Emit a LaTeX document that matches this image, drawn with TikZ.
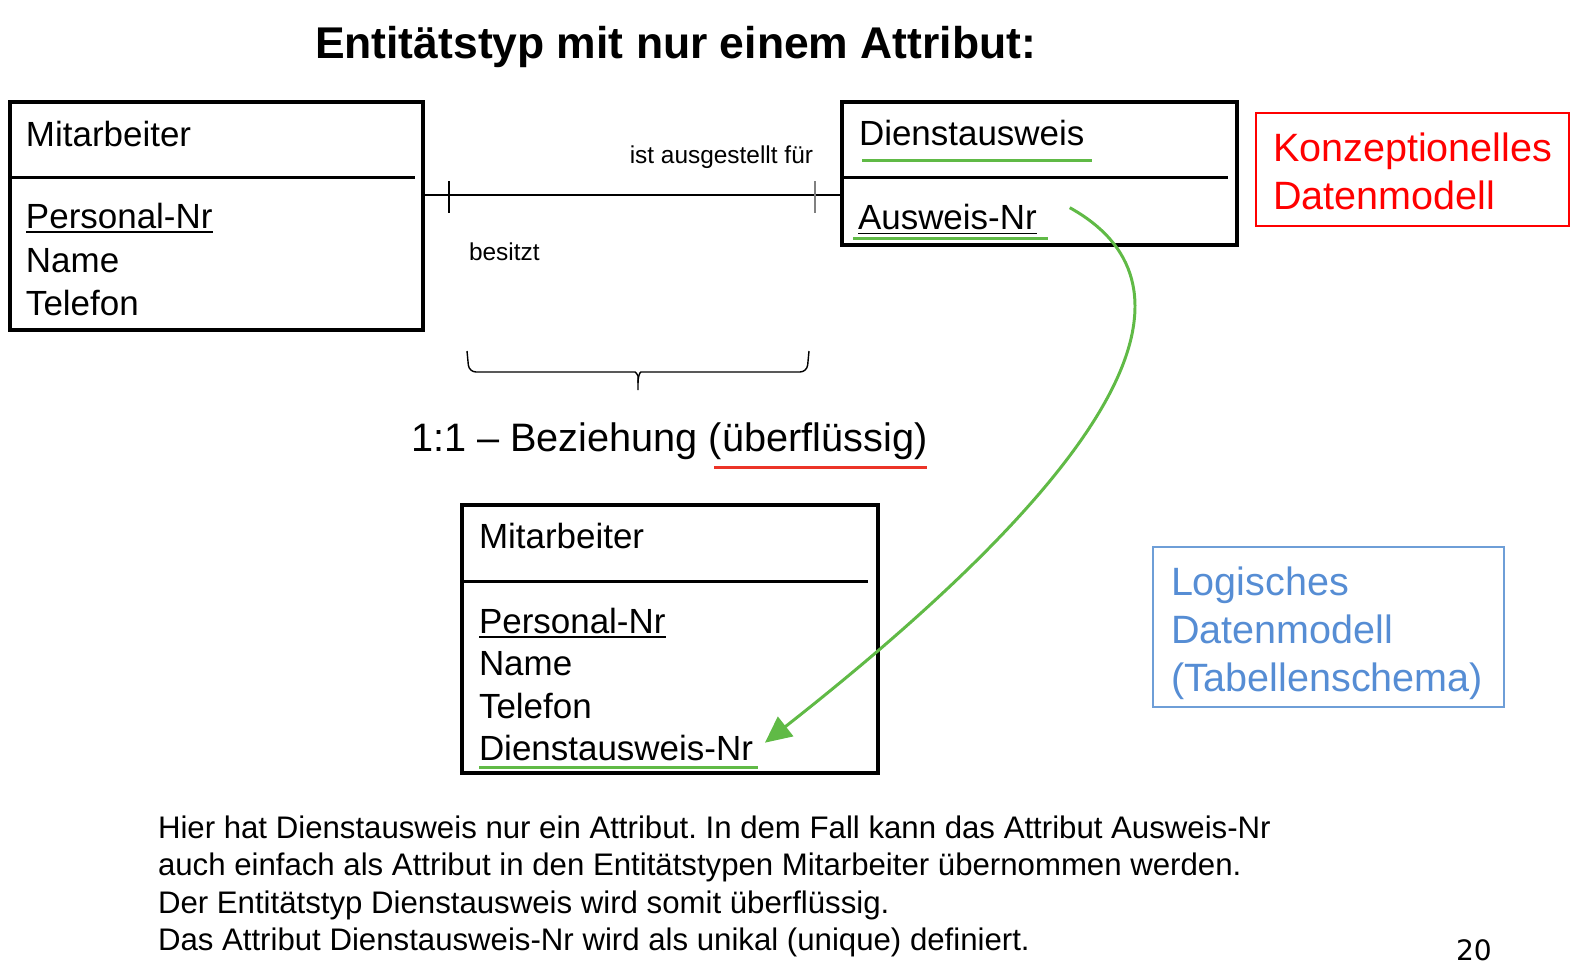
\documentclass[tikz,border=0pt]{standalone}
\usepackage{fontspec}
\setmainfont{Liberation Sans}
\newfontfamily\seitenfont{DejaVu Sans}
\usepackage{tikz}
\usetikzlibrary{calc, arrows.meta, decorations.pathreplacing}

\definecolor{gruen}{RGB}{96,186,70}
\definecolor{rot}{RGB}{255,0,0}
\definecolor{rotlinie}{RGB}{236,52,40}
\definecolor{blau}{RGB}{86,141,212}
\definecolor{blaurand}{RGB}{110,158,215}
\frenchspacing

\begin{document}
\begin{tikzpicture}[x=0.02cm, y=-0.02cm,
    txt/.style={anchor=base west, inner sep=0pt, outer sep=0pt},
    attr/.style={txt, font=\fontsize{19.9}{24}\selectfont},
    entitaet/.style={draw, line width=2pt, anchor=north west, inner sep=0pt, outer sep=0pt},
    trenn/.style={line width=1.7pt},
    unter/.style={line width=0.8pt},
    gruenlinie/.style={gruen, line width=1.7pt},
    modell/.style={txt, font=\fontsize{22.5}{27}\selectfont},
    rahmen/.style={draw, line width=0.85pt, anchor=north west, inner sep=0pt, outer sep=0pt},
    fliess/.style={txt, font=\fontsize{17.75}{21}\selectfont}]
  % Bildrahmen
  \useasboundingbox (0,0) rectangle (1576,975);

  % Titel
  \node[txt, font=\fontsize{25.3}{30}\selectfont\bfseries] (titel) at (315,58) {Entitätstyp mit nur einem Attribut:};

  % Entitaetstyp Mitarbeiter (konzeptionell)
  \node[entitaet, minimum width=8.26cm, minimum height=4.56cm] (ma) at (10,102) {};
  \draw[trenn] (ma.west |- 0,177) -- (415,177);
  \node[attr] (maname) at (26,146) {Mitarbeiter};
  \node[attr] (pnr) at (26,228) {Personal-Nr};
  \node[attr] (name) at (26,272) {Name};
  \node[attr] (tel) at (26,315) {Telefon};
  \draw[unter] ([yshift=-2.3pt]pnr.base west) -- ([yshift=-2.3pt]pnr.base east);

  % Entitaetstyp Dienstausweis
  \node[entitaet, minimum width=7.9cm, minimum height=2.86cm] (da) at (842,102) {};
  \draw[trenn] (da.west |- 0,177) -- (1228,177);
  \node[attr] (daname) at (859,145) {Dienstausweis};
  \node[attr] (anr) at (858,229) {Ausweis-Nr};
  \draw[unter] ([yshift=-2.6pt]anr.base west) -- ([yshift=-2.6pt]anr.base east);
  \draw[gruenlinie] (862,160) -- (1092,160);
  \draw[gruenlinie] (853,238) -- (1048,238);

  % Beziehung 1:1
  \coordinate (hoehe) at (0,195);
  \draw[line width=0.85pt] (ma.east |- hoehe) -- (da.west |- hoehe);
  \draw[line width=0.7pt] (449,181) -- (449,213);
  \draw[line width=0.7pt, gray] (815,181) -- (815,213);
  \node[txt, font=\fontsize{13.9}{16}\selectfont, anchor=base east] (ausg) at (813,163) {ist ausgestellt für};
  \node[txt, font=\fontsize{13.9}{16}\selectfont] (besitzt) at (469,260) {besitzt};

  % Klammer
  \draw[line width=0.8pt, rounded corners=4pt] (467,351) -- (469,372) -- (628,372)
    .. controls (636,372) and (638,376) .. (638,383) -- (638,390);
  \draw[line width=0.8pt, rounded corners=4pt] (809,351) -- (807,372) -- (648,372)
    .. controls (640,372) and (638,376) .. (638,383);
  \node[txt, font=\fontsize{22.6}{27}\selectfont] (bez) at (411,451) {1:1 – Beziehung (überflüssig)};
  \draw[rotlinie, line width=1.7pt] (714,467) -- (927,467);

  % Tabelle Mitarbeiter (logisch)
  \node[entitaet, minimum width=8.32cm, minimum height=5.36cm] (mb) at (462,505) {};
  \draw[trenn] (mb.west |- 0,581) -- (868,581);
  \node[attr] (mbname) at (479,548) {Mitarbeiter};
  \node[attr] (pnr2) at (479,633) {Personal-Nr};
  \node[attr] (name2) at (479,675) {Name};
  \node[attr] (tel2) at (479,718) {Telefon};
  \node[attr] (dnr) at (479,760) {Dienstausweis-Nr};
  \draw[unter] ([yshift=-2.3pt]pnr2.base west) -- ([yshift=-2.3pt]pnr2.base east);
  \draw[gruenlinie] (479,767) -- (758,767);

  % Pfeil
  \draw[gruen, line width=1.7pt, -{Triangle[length=15pt, width=14pt]}]
    ($(anr.north east)+(33,4)$) .. controls (1200,280) and (1150,440) .. ($(dnr.north east)+(12,8)$);

  % Modelle
  \node[rahmen, draw=rot, minimum width=6.26cm, minimum height=2.26cm] (konz) at (1256,113) {};
  \node[modell, text=rot] (konz1) at (1273,161) {Konzeptionelles};
  \node[modell, text=rot] (konz2) at (1273,209) {Datenmodell};
  \node[rahmen, draw=blaurand, minimum width=7.02cm, minimum height=3.2cm] (log) at (1153,547) {};
  \node[modell, text=blau] (log1) at (1171,595) {Logisches};
  \node[modell, text=blau] (log2) at (1171,643) {Datenmodell};
  \node[modell, text=blau] (log3) at (1171,691) {(Tabellenschema)};

  % Erlaeuterung
  \node[fliess] (z1) at (158,838) {Hier hat Dienstausweis nur ein Attribut. In dem Fall kann das Attribut Ausweis-Nr};
  \node[fliess] (z2) at (158,875) {auch einfach als Attribut in den Entitätstypen Mitarbeiter übernommen werden.};
  \node[fliess] (z3) at (158,913) {Der Entitätstyp Dienstausweis wird somit überflüssig.};
  \node[fliess] (z4) at (158,950) {Das Attribut Dienstausweis-Nr wird als unikal (unique) definiert.};

  % Seitenzahl
  \node[txt, font=\seitenfont\fontsize{16}{19}\selectfont] (seite) at (1456,960) {20};
\end{tikzpicture}
\end{document}
